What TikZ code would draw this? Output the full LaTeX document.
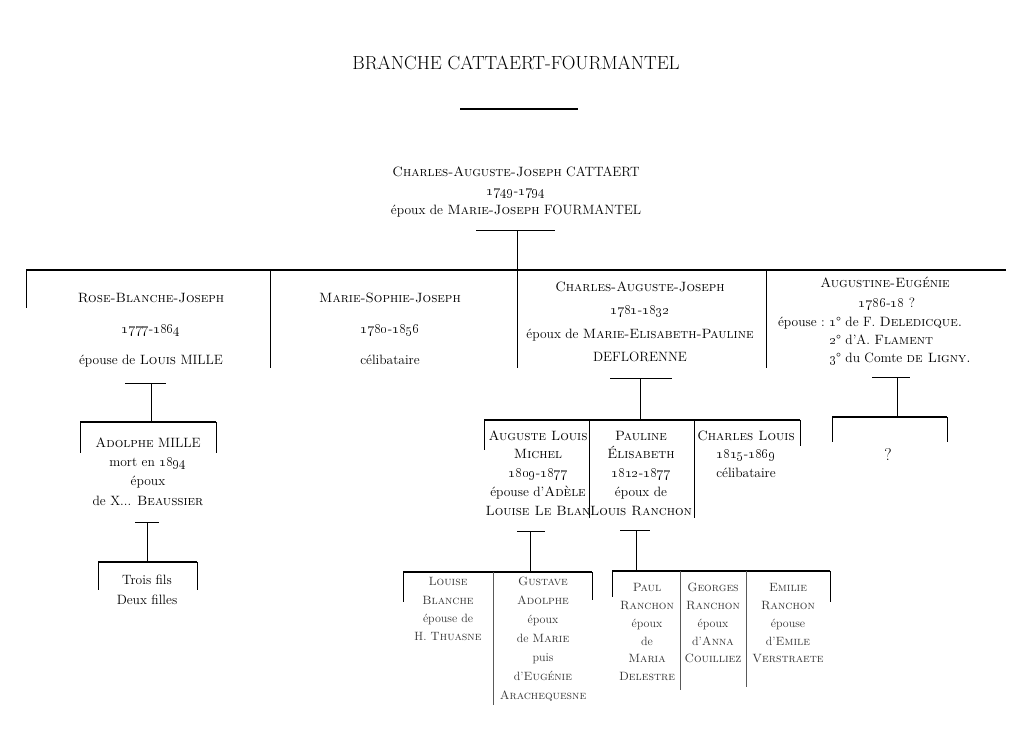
\documentclass[tikz,border=0pt]{standalone}
\usepackage{tikz}
\usetikzlibrary{positioning}
\newcommand\ans[2]{\oldstylenums{#1}-\oldstylenums{#2}}
\newcommand\hd{\rule{0pt}{11pt}}
\newcommand\hp{\rule{0pt}{10pt}}

\begin{document}
\begin{tikzpicture}[x=1pt,y=-1pt,
    txt/.style={inner sep=0pt,anchor=north,align=center,
                font=\fontsize{13.5}{#1}\selectfont},
    txt/.default=19,
    ligne/.style={inner sep=0pt,font=\fontsize{13.5}{19}\selectfont},
    petit/.style={inner sep=0pt,anchor=north,align=center,black!80,
                  font=\fontsize{12}{#1}\selectfont},
    petit/.default=18,
    trait/.style={line width=1pt},
    barre/.style={line width=1.4pt},
    fin/.style={line width=0.6pt,black!65}]
  \useasboundingbox (0,0) rectangle (1024,753);

  % Titre
  \node[inner sep=0pt,font=\fontsize{19}{22}\selectfont] (titre) at (516,63)
       {BRANCHE CATTAERT-FOURMANTEL};
  \draw[line width=1.5pt] (460,109) -- (578,109);

  % Aieul
  \node[txt] (aieul) at (516,165)
       {\hd\textsc{Charles-Auguste-Joseph} CATTAERT\\ \ans{1749}{1794}\\
        époux de \textsc{Marie-Joseph} FOURMANTEL};
  \coordinate (a1) at (476,230); \coordinate (a2) at (555,230);
  \coordinate (a0) at (517,230); \coordinate (m0) at (517,270);
  \coordinate (mg) at (26,270);  \coordinate (md) at (1006,270);
  \draw[trait] (a1) -- (a2);
  \draw[trait] (a0) -- (m0);
  \draw[barre] (mg) -- (md);
  \draw[trait] (mg) -- ++(0,38);
  \foreach \x in {270,517,766}
    \draw[trait] (\x,270) -- (\x,368);

  % Enfants
  \node[txt=31] (rose) at (151,291)
       {\hd\textsc{Rose-Blanche-Joseph}\\ \ans{1777}{1864}\\
        épouse de \textsc{Louis} MILLE};
  \node[txt=31] (sophie) at (390,291)
       {\hd\textsc{Marie-Sophie-Joseph}\\ \ans{1780}{1856}\\ célibataire};
  \node[txt=23.5] (charles) at (640,280)
       {\hd\textsc{Charles-Auguste-Joseph}\\ \ans{1781}{1832}\\
        époux de \textsc{Marie-Elisabeth-Pauline}\\ DEFLORENNE};
  \node[ligne,anchor=base] (augustine) at (885,287)
       {\textsc{Augustine-Eugénie}};
  \node[ligne,anchor=base] (augdates) at (887,307)
       {\oldstylenums{1786}-\oldstylenums{18} ?};
  \node[ligne,anchor=base east] (epouse) at (825,326) {épouse :};
  \node[ligne,anchor=base west] (mari1) at (829,326)
       {\oldstylenums{1}° de F. \textsc{Deledicque.}};
  \node[ligne,anchor=base west] (mari2) at (829,344)
       {\oldstylenums{2}° d’A. \textsc{Flament}};
  \node[ligne,anchor=base west] (mari3) at (829,362)
       {\oldstylenums{3}° du Comte \textsc{de Ligny.}};

  % Descendance de Rose-Blanche-Joseph
  \coordinate (r1) at (125,383); \coordinate (r2) at (166,383);
  \coordinate (r0) at (151,383); \coordinate (rb) at (151,422);
  \coordinate (rg) at (80,422);  \coordinate (rd) at (216,422);
  \draw[trait] (r1) -- (r2);
  \draw[trait] (r0) -- (rb);
  \draw[barre] (rg) -- (rd);
  \draw[trait] (rg) -- ++(0,31);
  \draw[trait] (rd) -- ++(0,31);
  \node[txt=19.3] (adolphe) at (148,436)
       {\hd\textsc{Adolphe} MILLE\\ mort en \oldstylenums{1894}\\ époux\\
        de X... \textsc{Beaussier}};
  \coordinate (d1) at (135,522); \coordinate (d2) at (159,522);
  \coordinate (d0) at (147,522); \coordinate (db) at (147,562);
  \coordinate (dg) at (98,562);  \coordinate (dd) at (197,562);
  \draw[trait] (d1) -- (d2);
  \draw[trait] (d0) -- (db);
  \draw[barre] (dg) -- (dd);
  \draw[trait] (dg) -- ++(0,28);
  \draw[trait] (dd) -- ++(0,28);
  \node[txt=20] (millefils) at (147,573) {\hd Trois fils\\ Deux filles};

  % Descendance de Charles-Auguste-Joseph
  \coordinate (c1) at (610,378); \coordinate (c2) at (672,378);
  \coordinate (c0) at (640,378); \coordinate (cb) at (640,420);
  \coordinate (cg) at (484,420); \coordinate (cd) at (800,420);
  \draw[trait] (c1) -- (c2);
  \draw[trait] (c0) -- (cb);
  \draw[barre] (cg) -- (cd);
  \draw[trait] (cg) -- ++(0,30);
  \draw[trait] (cd) -- ++(0,26);
  \foreach \x in {589,694}
    \draw[trait] (\x,420) -- (\x,518);
  \node[txt=18.75] (auguste) at (538,429)
       {\hd\textsc{Auguste Louis}\\ \textsc{Michel}\\ \ans{1809}{1877}\\
        épouse d’\textsc{Adèle}\\ \textsc{Louise Le Blan}};
  \node[txt=18.75] (pauline) at (641,429)
       {\hd\textsc{Pauline}\\ \textsc{Élisabeth}\\ \ans{1812}{1877}\\
        époux de\\ \textsc{Louis Ranchon}};
  \node[txt=18.75] (charleslouis) at (746,429)
       {\hd\textsc{Charles Louis}\\ \ans{1815}{1869}\\ célibataire};

  % Petits-enfants d'Auguste Louis Michel
  \coordinate (g1) at (517,531); \coordinate (g2) at (545,531);
  \coordinate (g0) at (530,531); \coordinate (gb) at (530,572);
  \coordinate (gg) at (403,572); \coordinate (gd) at (592,572);
  \draw[trait] (g1) -- (g2);
  \draw[trait] (g0) -- (gb);
  \draw[barre] (gg) -- (gd);
  \draw[trait] (gg) -- ++(0,30);
  \draw[trait] (gd) -- ++(0,28);
  \draw[fin] (493,572) -- (493,705);
  \node[petit=18.3] (louise) at (448,575.5)
       {\hp\textsc{Louise}\\ \textsc{Blanche}\\ épouse de\\ H. \textsc{Thuasne}};
  \node[petit=19] (gustave) at (543,575.5)
       {\hp\textsc{Gustave}\\ \textsc{Adolphe}\\ époux\\ de \textsc{Marie}\\
        puis\\ d’\textsc{Eugénie}\\ \textsc{Arachequesne}};

  % Petits-enfants de Pauline Elisabeth
  \coordinate (p1) at (620,530); \coordinate (p2) at (650,530);
  \coordinate (p0) at (636,530); \coordinate (pb) at (636,571);
  \coordinate (pg) at (612,571); \coordinate (pd) at (830,571);
  \draw[trait] (p1) -- (p2);
  \draw[trait] (p0) -- (pb);
  \draw[barre] (pg) -- (pd);
  \draw[trait] (pg) -- ++(0,26);
  \draw[trait] (pd) -- ++(0,31);
  \draw[fin] (680,571) -- (680,690);
  \draw[fin] (746,571) -- (746,687);
  \node[petit=17.8] (paul) at (647,581.5)
       {\hp\textsc{Paul}\\ \textsc{Ranchon}\\ époux\\ de\\ \textsc{Maria}\\
        \textsc{Delestre}};
  \node[petit=17.8] (georges) at (713,581.5)
       {\hp\textsc{Georges}\\ \textsc{Ranchon}\\ époux\\ d’\textsc{Anna}\\
        \textsc{Couilliez}};
  \node[petit=17.8] (emilie) at (788,581.5)
       {\hp\textsc{Emilie}\\ \textsc{Ranchon}\\ épouse\\ d’\textsc{Emile}\\
        \textsc{Verstraete}};

  % Descendance d'Augustine-Eugenie
  \coordinate (e1) at (872,377); \coordinate (e2) at (910,377);
  \coordinate (e0) at (897,377); \coordinate (eb) at (897,417);
  \coordinate (eg) at (832,417); \coordinate (ed) at (947,417);
  \draw[trait] (e1) -- (e2);
  \draw[trait] (e0) -- (eb);
  \draw[barre] (eg) -- (ed);
  \draw[trait] (eg) -- ++(0,25);
  \draw[trait] (ed) -- ++(0,25);
  \node[inner sep=0pt,font=\fontsize{17}{20}\selectfont] (inconnu)
       at (888,455) {?};
\end{tikzpicture}
\end{document}
